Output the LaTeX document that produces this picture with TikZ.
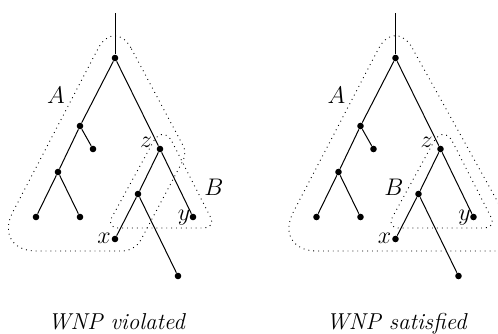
\documentclass[tikz,border=0pt]{standalone}
\usetikzlibrary{calc}
\newcommand\rcorner[4]{-- ($(#2)!#4!(#1)$) .. controls ($(#2)!0.45*#4!(#1)$) and ($(#2)!0.45*#4!(#3)$) .. ($(#2)!#4!(#3)$)}
\tikzset{
  dot/.style={circle, fill=black, inner sep=0pt, minimum size=3.3pt},
  edge/.style={line width=0.5pt},
  blob/.style={dotted, line width=0.45pt},
  lab/.style={anchor=base, inner sep=0pt, font=\fontsize{11.5}{13}\selectfont},
}
\newcommand\drawtree[1]{%
  \coordinate (#1stem) at (115,13);
  \node[dot] (#1root) at (115,58) {};
  \node[dot] (#1a) at (80,126) {};
  \node[dot] (#1a2) at (93,149) {};
  \node[dot] (#1b) at (58,172) {};
  \node[dot] (#1b1) at (36,217) {};
  \node[dot] (#1b2) at (80,217) {};
  \node[dot] (#1z) at (160,149) {};
  \node[dot] (#1c) at (138,194) {};
  \node[dot] (#1x) at (115,239) {};
  \node[dot] (#1d) at (178,276) {};
  \node[dot] (#1y) at (193,217) {};
  \draw[edge] (#1stem) -- (#1root);
  \draw[edge] (#1root) -- (#1a);
  \draw[edge] (#1root) -- (#1z);
  \draw[edge] (#1a) -- (#1a2);
  \draw[edge] (#1a) -- (#1b);
  \draw[edge] (#1b) -- (#1b1);
  \draw[edge] (#1b) -- (#1b2);
  \draw[edge] (#1z) -- (#1c);
  \draw[edge] (#1z) -- (#1y);
  \draw[edge] (#1c) -- (#1x);
  \draw[edge] (#1c) -- (#1d);
  \node[lab] (#1Al) at (56,103) {$A$};
  \node[lab] (#1zl) at (146,147) {$z$};
  \node[lab] (#1xl) at (104,243) {$x$};
  \node[lab] (#1yl) at (184,220) {$y$};
  % region B
  \coordinate (#1B1) at (163,124);
  \coordinate (#1B2) at (216,228);
  \coordinate (#1B3) at (106,228);
  \draw[blob] ($(#1B1)!10pt!(#1B2)$) \rcorner{#1B1}{#1B2}{#1B3}{6pt} \rcorner{#1B2}{#1B3}{#1B1}{6pt} \rcorner{#1B3}{#1B1}{#1B2}{10pt} -- cycle;
}
\begin{document}
\begin{tikzpicture}[x=0.5pt, y=-0.5pt]
\useasboundingbox (0,0) rectangle (498,333);
\clip (0,0) rectangle (498,333);
% left tree
\drawtree{L}
\node[lab] (LBl) at (214,195) {$B$};
\coordinate (LA1) at (114.5,17);
\coordinate (LA2) at (187,153);
\coordinate (LA3) at (135,251);
\coordinate (LA4) at (-7.5,251);
\draw[blob] ($(LA1)!18pt!(LA2)$) \rcorner{LA1}{LA2}{LA3}{4pt} \rcorner{LA2}{LA3}{LA4}{6pt} \rcorner{LA3}{LA4}{LA1}{22pt} \rcorner{LA4}{LA1}{LA2}{18pt} -- cycle;
\node[lab] (capL) at (117,329) {\textit{WNP violated}};
% right tree
\begin{scope}[shift={(280.5,0)}]
\drawtree{R}
\node[lab] (RBl) at (113.5,195) {$B$};
\end{scope}
\coordinate (RA1) at (395,17);
\coordinate (RA2) at (525,251);
\coordinate (RA3) at (273,251);
\draw[blob] ($(RA1)!18pt!(RA2)$) \rcorner{RA1}{RA2}{RA3}{15pt} \rcorner{RA2}{RA3}{RA1}{22pt} \rcorner{RA3}{RA1}{RA2}{18pt} -- cycle;
\node[lab] (capR) at (397,329) {\textit{WNP satisfied}};
\end{tikzpicture}
\end{document}
